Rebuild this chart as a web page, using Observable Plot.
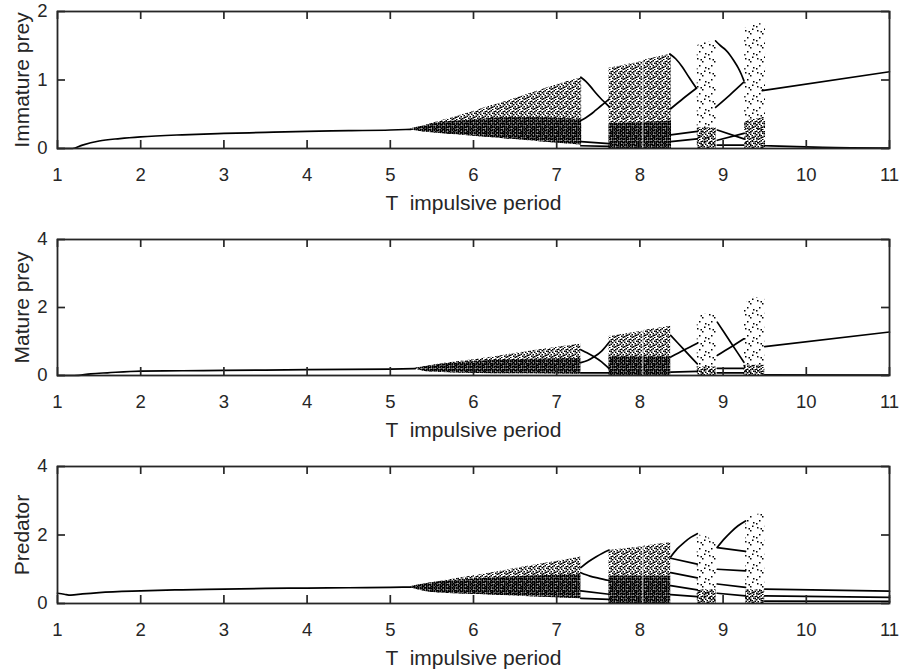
<!DOCTYPE html>
<html><head><meta charset="utf-8">
<script src="https://cdn.jsdelivr.net/npm/d3@7"></script>
<script src="https://cdn.jsdelivr.net/npm/@observablehq/plot@0.6"></script>
<style>
body{margin:0;background:#fff;overflow:hidden}
#chart{position:relative;width:899px;height:672px;background:#fff}
.panel{position:absolute;left:0}
svg text{white-space:pre}
</style></head><body>
<svg width="0" height="0" style="position:absolute">
<defs>
<pattern id="pDense" patternUnits="userSpaceOnUse" width="2" height="3"><rect x="0" y="0" width="1.6" height="2.6" fill="#000"/></pattern>
<pattern id="pMed" patternUnits="userSpaceOnUse" width="9" height="10" fill="#000">
<rect x="0" y="0.5" width="1.5" height="1.5"/><rect x="0" y="4" width="1.5" height="1.5"/><rect x="0" y="7.5" width="1.5" height="1.5"/>
<rect x="1.5" y="2" width="1.5" height="1.5"/><rect x="1.5" y="6" width="1.5" height="1.5"/><rect x="1.5" y="8.5" width="1.5" height="1.5"/>
<rect x="3" y="1" width="1.5" height="1.5"/><rect x="3" y="3.5" width="1.5" height="1.5"/><rect x="3" y="8" width="1.5" height="1.5"/>
<rect x="4.5" y="5" width="1.5" height="1.5"/><rect x="4.5" y="7" width="1.5" height="1.5"/><rect x="4.5" y="0" width="1.5" height="1.5"/>
<rect x="6" y="2.5" width="1.5" height="1.5"/><rect x="6" y="6.5" width="1.5" height="1.5"/><rect x="6" y="9" width="1.5" height="1.0"/>
<rect x="7.5" y="3" width="1.5" height="1.5"/><rect x="7.5" y="5.5" width="1.5" height="1.5"/><rect x="7.5" y="1" width="1.5" height="1.5"/>
</pattern>
<pattern id="pSparse" patternUnits="userSpaceOnUse" width="12" height="14" fill="#000">
<rect x="1" y="2" width="1.5" height="1.5"/><rect x="6" y="5" width="1.5" height="1.5"/><rect x="3" y="9" width="1.5" height="1.5"/>
<rect x="9" y="11" width="1.5" height="1.5"/><rect x="0" y="12" width="1.5" height="1.5"/><rect x="8" y="0.5" width="1.5" height="1.5"/>
<rect x="4.5" y="3" width="1.5" height="1.5"/>
</pattern>
</defs>
</svg>
<div id="chart"></div>
<script>
// ---------- axes ----------
const xTicks = [1,2,3,4,5,6,7,8,9,10,11];
const yTicksImm = [0,1,2];
const yTicksMat = [0,2,4];
const yTicksPred = [0,2,4];
const xLabel = "T  impulsive period";
const yLabels = ["Immature prey","Mature prey","Predator"];

// ---------- Immature prey ----------
const immMain = [[1,0],[1.18,0],[1.3,0.05],[1.5,0.11],[1.75,0.145],[2,0.17],[2.5,0.2],[3,0.22],[3.5,0.235],[4,0.25],[4.5,0.26],[5,0.27],[5.25,0.28]];
const immWedge = [[5.25,0.27,0.29],[5.4,0.24,0.33],[5.6,0.22,0.40],[5.8,0.2,0.47],[6.0,0.18,0.54],[6.2,0.16,0.62],[6.4,0.14,0.69],[6.6,0.12,0.77],[6.8,0.1,0.85],[7.0,0.08,0.93],[7.2,0.06,1.0],[7.3,0.05,1.03]];
const immWedgeDense = [[5.25,0.27,0.29],[5.4,0.24,0.33],[5.6,0.22,0.38],[5.8,0.2,0.4],[6.0,0.18,0.42],[6.4,0.14,0.45],[6.8,0.1,0.45],[7.3,0.05,0.42]];
const immChaos2a = [[7.63,0,1.17],[8.035,0,1.27]];
const immChaos2b = [[8.045,0,1.29],[8.38,0,1.38]];
const immChaos2aDense = [[7.63,0,0.36],[8.035,0,0.38]];
const immChaos2bDense = [[8.045,0,0.38],[8.38,0,0.4]];
const immChaos3 = [[8.69,0,1.5],[8.8,0,1.55],[8.92,0,1.55]];
const immChaos3Dense = [[8.69,0,0.3],[8.92,0,0.3]];
const immChaos4 = [[9.26,0,1.75],[9.4,0,1.82],[9.51,0,1.82]];
const immChaos4Dense = [[9.26,0,0.4],[9.51,0,0.45]];
const immB1a = [[7.29,1.04],[7.35,0.98],[7.41,0.9],[7.47,0.81],[7.53,0.73],[7.58,0.67],[7.63,0.61]];
const immB1b = [[7.29,0.41],[7.35,0.45],[7.41,0.5],[7.47,0.56],[7.53,0.62],[7.58,0.67],[7.63,0.72]];
const immB2a = [[8.36,1.38],[8.43,1.31],[8.51,1.19],[8.59,1.04],[8.64,0.95],[8.68,0.88]];
const immB2b = [[8.37,0.58],[8.52,0.73],[8.68,0.88]];
const immB3a = [[8.91,1.57],[8.97,1.5],[9.03,1.44],[9.08,1.37],[9.13,1.28],[9.18,1.18],[9.22,1.08],[9.25,0.99]];
const immB3b = [[8.91,0.6],[9.08,0.78],[9.25,0.97]];
const immAfter = [[9.47,0.845],[11,1.12]];
const immLow1 = [[7.29,0.1],[7.63,0.07]];
const immLow2 = [[7.29,0.04],[7.63,0.03]];
const immLow3 = [[8.37,0.2],[8.69,0.25]];
const immLow4 = [[8.37,0.1],[8.69,0.14]];
const immLow5 = [[8.93,0.27],[9.25,0.14]];
const immLow6 = [[8.93,0.12],[9.25,0.22]];
const immLow7 = [[8.93,0.05],[9.25,0.05]];
const immLow8 = [[9.5,0.04],[10.2,0.015],[11,0.005]];

// ---------- Mature prey ----------
const matMain = [[1,0],[1.2,0],[1.4,0.05],[1.6,0.08],[2,0.13],[2.5,0.14],[3,0.15],[4,0.17],[5,0.19],[5.3,0.2]];
const matWedge = [[5.3,0.19,0.21],[5.48,0.1,0.29],[6.08,0.06,0.49],[6.69,0.05,0.72],[7.29,0.04,0.93]];
const matWedgeDense = [[5.3,0.19,0.21],[5.48,0.1,0.29],[6.08,0.06,0.42],[6.69,0.05,0.48],[7.29,0.04,0.5]];
const matChaos2a = [[7.63,0,1.15],[8.035,0,1.3]];
const matChaos2b = [[8.045,0,1.32],[8.37,0,1.45]];
const matChaos2aDense = [[7.63,0,0.55],[8.035,0,0.55]];
const matChaos2bDense = [[8.045,0,0.55],[8.37,0,0.55]];
const matChaos3 = [[8.69,0,1.7],[8.8,0,1.8],[8.92,0,1.78]];
const matChaos3Dense = [[8.69,0,0.25],[8.92,0,0.25]];
const matChaos4 = [[9.25,0,2.0],[9.35,0,2.3],[9.5,0,2.25]];
const matChaos4Dense = [[9.25,0,0.3],[9.5,0,0.3]];
const matB1a = [[7.29,0.76],[7.37,0.66],[7.45,0.55],[7.54,0.4],[7.63,0.2]];
const matB1b = [[7.29,0.38],[7.37,0.44],[7.45,0.55],[7.54,0.72],[7.63,0.98]];
const matB2a = [[8.37,1.18],[8.53,0.76],[8.69,0.34]];
const matB2b = [[8.37,0.54],[8.53,0.75],[8.69,0.95]];
const matB3a = [[8.93,1.57],[9.09,0.98],[9.25,0.39]];
const matB3b = [[8.93,0.59],[9.09,0.83],[9.25,1.08]];
const matAfter = [[9.5,0.85],[11,1.28]];
const matLow1 = [[7.29,0.08],[7.63,0.08]];
const matLow2 = [[8.37,0.1],[8.69,0.12]];
const matLow3 = [[8.93,0.21],[9.25,0.21]];
const matLow4 = [[8.93,0.08],[9.25,0.08]];
const matLow5 = [[9.5,0.02],[11,0.01]];

// ---------- Predator ----------
const predMain = [[1,0.3],[1.08,0.27],[1.16,0.245],[1.3,0.28],[1.5,0.32],[2,0.37],[2.5,0.4],[3,0.42],[3.5,0.44],[4,0.45],[4.5,0.46],[5,0.47],[5.25,0.48]];
const predWedge = [[5.25,0.46,0.5],[5.48,0.33,0.6],[6.08,0.26,0.84],[6.69,0.2,1.1],[7.29,0.14,1.36]];
const predWedgeDense = [[5.25,0.46,0.5],[5.48,0.33,0.6],[6.08,0.26,0.72],[6.69,0.2,0.8],[7.29,0.14,0.85]];
const predChaos2a = [[7.63,0,1.55],[8.035,0,1.66]];
const predChaos2b = [[8.045,0,1.67],[8.37,0,1.78]];
const predChaos2aDense = [[7.63,0,0.8],[8.035,0,0.8]];
const predChaos2bDense = [[8.045,0,0.8],[8.37,0,0.8]];
const predChaos3 = [[8.69,0,2.0],[8.8,0,1.95],[8.92,0,1.7]];
const predChaos3Dense = [[8.69,0,0.4],[8.92,0,0.4]];
const predChaos4 = [[9.27,0,2.45],[9.4,0,2.6],[9.5,0,2.62]];
const predChaos4Dense = [[9.27,0,0.4],[9.5,0,0.4]];
const predB1a = [[7.29,1.05],[7.38,1.22],[7.47,1.36],[7.55,1.47],[7.63,1.56]];
const predB1b = [[7.29,0.9],[7.4,0.8],[7.5,0.74],[7.63,0.67]];
const predB1c = [[7.29,0.37],[7.63,0.27]];
const predB1d = [[7.29,0.15],[7.63,0.12]];
const predB2a = [[8.37,1.36],[8.45,1.6],[8.53,1.78],[8.61,1.93],[8.69,2.04]];
const predB2b = [[8.37,1.32],[8.69,1.15]];
const predB2c = [[8.37,0.9],[8.69,0.75]];
const predB2d = [[8.37,0.52],[8.69,0.4]];
const predB2e = [[8.37,0.26],[8.69,0.2]];
const predB3a = [[8.93,1.64],[9.02,1.9],[9.1,2.1],[9.18,2.27],[9.27,2.41]];
const predB3b = [[8.93,1.63],[9.27,1.52]];
const predB3c = [[8.93,1.0],[9.27,0.95]];
const predB3d = [[8.93,0.57],[9.27,0.47]];
const predB3e = [[8.93,0.3],[9.27,0.22]];
const predAfter1 = [[9.5,0.42],[11,0.36]];
const predAfter2 = [[9.5,0.22],[11,0.18]];
const predAfter3 = [[9.5,0.07],[11,0.06]];

// ---------- helpers ----------
const toLines = (list) => list.flatMap(([s, pts]) => pts.map(([T, v]) => ({s, T, v})));
const toBand = (pts) => pts.map(([T, lo, hi]) => ({T, lo, hi}));

const panels = [
  {top:0, plotH:137, yMax:2, yTicks:yTicksImm, ylabel:yLabels[0],
   bands:[[immWedge,"pMed"],[immWedgeDense,"pDense"],[immChaos2a,"pMed"],[immChaos2b,"pMed"],[immChaos2aDense,"pDense"],[immChaos2bDense,"pDense"],[immChaos3,"pSparse"],[immChaos3Dense,"pMed"],[immChaos4,"pSparse"],[immChaos4Dense,"pMed"]],
   lines: toLines([["main",immMain],["b1a",immB1a],["b1b",immB1b],["b2a",immB2a],["b2b",immB2b],["b3a",immB3a],["b3b",immB3b],["after",immAfter],["l1",immLow1],["l2",immLow2],["l3",immLow3],["l4",immLow4],["l5",immLow5],["l6",immLow6],["l7",immLow7],["l8",immLow8]])},
  {top:228, plotH:136, yMax:4, yTicks:yTicksMat, ylabel:yLabels[1],
   bands:[[matWedge,"pMed"],[matWedgeDense,"pDense"],[matChaos2a,"pMed"],[matChaos2b,"pMed"],[matChaos2aDense,"pDense"],[matChaos2bDense,"pDense"],[matChaos3,"pSparse"],[matChaos3Dense,"pMed"],[matChaos4,"pSparse"],[matChaos4Dense,"pMed"]],
   lines: toLines([["main",matMain],["b1a",matB1a],["b1b",matB1b],["b2a",matB2a],["b2b",matB2b],["b3a",matB3a],["b3b",matB3b],["after",matAfter],["l1",matLow1],["l2",matLow2],["l3",matLow3],["l4",matLow4],["l5",matLow5]])},
  {top:455, plotH:137, yMax:4, yTicks:yTicksPred, ylabel:yLabels[2],
   bands:[[predWedge,"pMed"],[predWedgeDense,"pDense"],[predChaos2a,"pMed"],[predChaos2b,"pMed"],[predChaos2aDense,"pDense"],[predChaos2bDense,"pDense"],[predChaos3,"pSparse"],[predChaos3Dense,"pMed"],[predChaos4,"pSparse"],[predChaos4Dense,"pMed"]],
   lines: toLines([["main",predMain],["b1a",predB1a],["b1b",predB1b],["b1c",predB1c],["b1d",predB1d],["b2a",predB2a],["b2b",predB2b],["b2c",predB2c],["b2d",predB2d],["b2e",predB2e],["b3a",predB3a],["b3b",predB3b],["b3c",predB3c],["b3d",predB3d],["b3e",predB3e],["a1",predAfter1],["a2",predAfter2],["a3",predAfter3]])}
];

const W = 899, ML = 57, MR = 10, MT = 11, MB = 72;
const plotW = W - ML - MR;
const axisColor = "#262626";

for (const p of panels) {
  const svg = Plot.plot({
    width: W, height: MT + p.plotH + MB,
    marginLeft: ML, marginRight: MR, marginTop: MT, marginBottom: MB,
    x: {domain: [1, 11]},
    y: {domain: [0, p.yMax]},
    style: {fontFamily: "'Liberation Sans', Arial, sans-serif", color: axisColor, background: "transparent", overflow: "visible"},
    marks: [
      ...p.bands.map(([pts, pat]) => Plot.areaY(toBand(pts), {x: "T", y1: "lo", y2: "hi", fill: `url(#${pat})`, curve: "monotone-x"})),
      Plot.line(p.lines, {x: "T", y: "v", z: "s", stroke: "#000", strokeWidth: 1.7, curve: "monotone-x"}),
      Plot.tickX(xTicks, {x: d => d, insetTop: p.plotH - 8, stroke: axisColor, strokeWidth: 1.7}),
      Plot.tickX(xTicks, {x: d => d, insetBottom: p.plotH - 8, stroke: axisColor, strokeWidth: 1.7}),
      Plot.tickY(p.yTicks, {y: d => d, insetRight: plotW - 8, stroke: axisColor, strokeWidth: 1.7}),
      Plot.tickY(p.yTicks, {y: d => d, insetLeft: plotW - 8, stroke: axisColor, strokeWidth: 1.7}),
      Plot.frame({stroke: axisColor, strokeWidth: 1.8}),
      Plot.axisX(xTicks, {tickSize: 0, tickPadding: 19, fontSize: 18.5, label: null, tickFormat: d => String(d)}),
      Plot.axisY(p.yTicks, {tickSize: 0, tickPadding: 10, fontSize: 18.5, label: null, tickFormat: d => String(d)}),
      Plot.text([xLabel], {text: d => d, frameAnchor: "bottom", textAnchor: "middle", lineAnchor: "middle", dy: 54.6, fontSize: 21}),
      Plot.text([p.ylabel], {text: d => d, frameAnchor: "left", textAnchor: "middle", lineAnchor: "middle", rotate: -90, dx: -35.4, fontSize: 21})
    ]
  });
  const div = document.createElement("div");
  div.className = "panel";
  div.style.top = p.top + "px";
  div.appendChild(svg);
  document.getElementById("chart").appendChild(div);
}
</script>
</body></html>
